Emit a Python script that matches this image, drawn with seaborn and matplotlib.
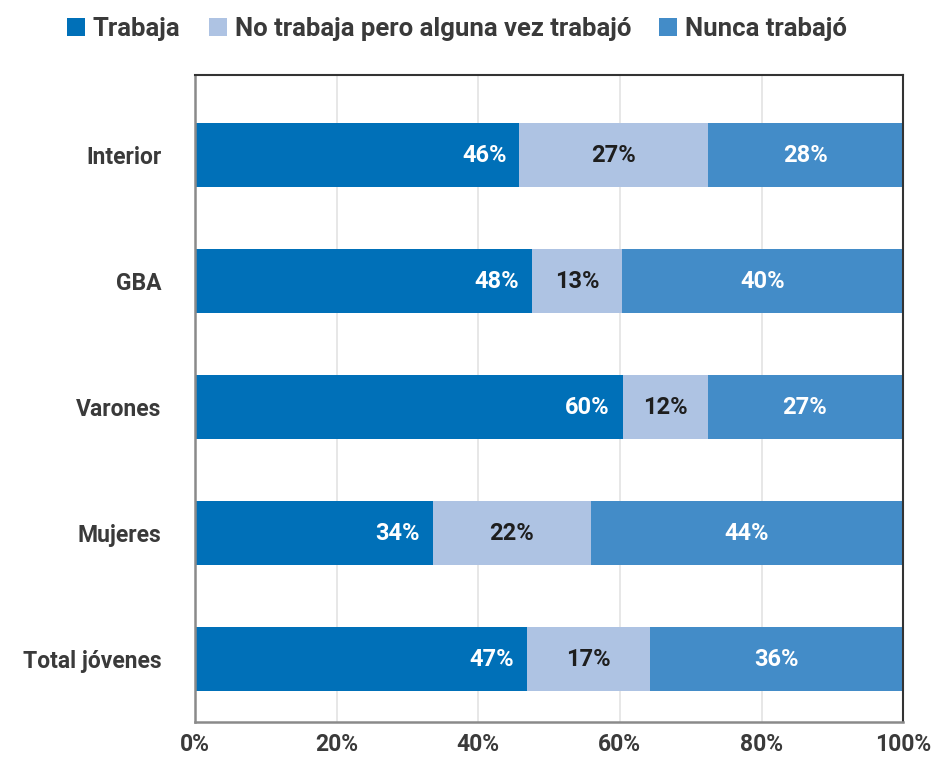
import matplotlib.pyplot as plt
import pandas as pd
import seaborn as sns
from matplotlib.patches import Patch

# Data (percent of young people)
groups = ["Interior", "GBA", "Varones", "Mujeres", "Total jóvenes"]
trabaja = [45.8, 47.6, 60.4, 33.6, 46.9]
no_trabaja = [26.6, 12.7, 12.0, 22.3, 17.4]
nunca = [27.6, 39.7, 27.4, 44.1, 35.7]
series_names = ["Trabaja", "No trabaja pero alguna vez trabajó", "Nunca trabajó"]
colors = ["#0070b8", "#aec3e3", "#438cc8"]
label_colors = ["white", "#1e1e1e", "white"]
xticks = [0, 20, 40, 60, 80, 100]

df = pd.DataFrame({
    "grupo": groups,
    "trabaja": trabaja,
    "no_trabaja": no_trabaja,
    "nunca": nunca,
})
df["cum1"] = df["trabaja"]
df["cum2"] = df["trabaja"] + df["no_trabaja"]
df["cum3"] = df["cum2"] + df["nunca"]

sns.set_style("white")
plt.rcParams["font.family"] = ["Roboto", "DejaVu Sans"]
text_col = "#3a3a3a"

fig = plt.figure(figsize=(9.33, 7.58), dpi=100)
ax = fig.add_axes([0.209, 0.0475, 0.759, 0.8535])

# stacked bars: draw cumulative totals from longest to shortest
for col, color in zip(["cum3", "cum2", "cum1"], colors[::-1]):
    sns.barplot(data=df, y="grupo", x=col, order=groups, color=color,
                orient="h", width=0.51, saturation=1, linewidth=0,
                ax=ax, zorder=2)

# value labels
lab_kw = dict(va="center", fontsize=17, fontweight="bold", zorder=3)
for i, row in df.iterrows():
    ax.text(row["cum1"] - 1.8, i, f"{row['trabaja']:.0f}%", ha="right",
            color=label_colors[0], **lab_kw)
    ax.text(row["cum1"] + row["no_trabaja"] / 2, i, f"{row['no_trabaja']:.0f}%",
            ha="center", color=label_colors[1], **lab_kw)
    ax.text(row["cum2"] + row["nunca"] / 2, i, f"{row['nunca']:.0f}%",
            ha="center", color=label_colors[2], **lab_kw)

ax.set_xlim(0, 100)
ax.set_ylim(4.5, -0.635)
ax.set_xticks(xticks)
ax.set_xticklabels([f"{t}%" for t in xticks])
ax.set_xlabel("")
ax.set_ylabel("")
ax.xaxis.grid(True, color="#e3e3e3", linewidth=1.2, zorder=0)
ax.set_axisbelow(True)
ax.tick_params(axis="both", length=0, labelsize=16.5, colors=text_col)
ax.tick_params(axis="y", pad=24)
ax.tick_params(axis="x", pad=8)
for lab in ax.get_xticklabels() + ax.get_yticklabels():
    lab.set_fontweight("bold")

for side in ["left", "bottom"]:
    ax.spines[side].set_color("#8a8a8a")
    ax.spines[side].set_linewidth(1.8)
for side in ["top", "right"]:
    ax.spines[side].set_color("#333333")
    ax.spines[side].set_linewidth(1.5)

handles = [Patch(facecolor=c, edgecolor="none") for c in colors]
fig.legend(handles, series_names, loc="upper center", bbox_to_anchor=(0.49, 1.008),
           ncol=3, frameon=False, handlelength=0.7, handleheight=0.7,
           handletextpad=0.3, columnspacing=1.1,
           prop={"size": 18.5, "weight": "bold"}, labelcolor=text_col)

fig.savefig("out.png", dpi=100)
